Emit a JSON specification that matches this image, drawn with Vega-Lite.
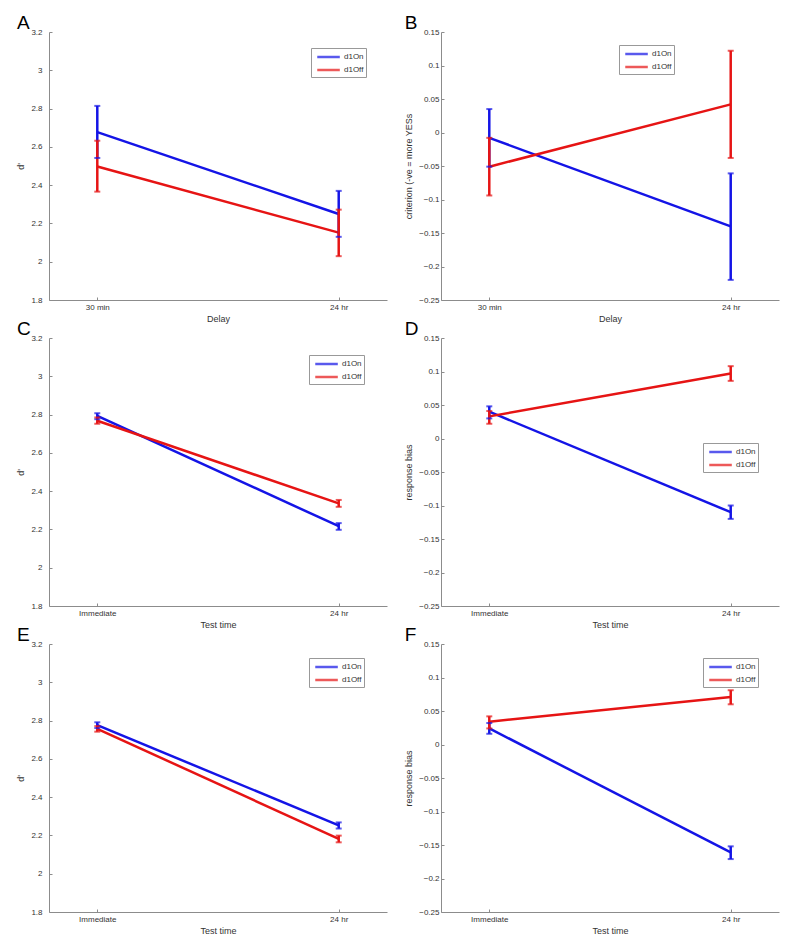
{
  "$schema": "https://vega.github.io/schema/vega-lite/v6.json",
  "background": "white",
  "padding": {"left": 16, "top": 14, "right": 10, "bottom": 10},
  "data": {"values": [
    {"panel":"A","t":"30 min","group":"d1On","mean":2.677,"lo":2.542,"hi":2.814},
    {"panel":"A","t":"24 hr","group":"d1On","mean":2.249,"lo":2.13,"hi":2.37},
    {"panel":"A","t":"30 min","group":"d1Off","mean":2.497,"lo":2.366,"hi":2.632},
    {"panel":"A","t":"24 hr","group":"d1Off","mean":2.152,"lo":2.029,"hi":2.272},
    {"panel":"B","t":"30 min","group":"d1On","mean":-0.008,"lo":-0.051,"hi":0.035},
    {"panel":"B","t":"24 hr","group":"d1On","mean":-0.14,"lo":-0.22,"hi":-0.061},
    {"panel":"B","t":"30 min","group":"d1Off","mean":-0.051,"lo":-0.094,"hi":-0.008},
    {"panel":"B","t":"24 hr","group":"d1Off","mean":0.042,"lo":-0.038,"hi":0.122},
    {"panel":"C","t":"Immediate","group":"d1On","mean":2.793,"lo":2.776,"hi":2.807},
    {"panel":"C","t":"24 hr","group":"d1On","mean":2.217,"lo":2.198,"hi":2.233},
    {"panel":"C","t":"Immediate","group":"d1Off","mean":2.768,"lo":2.752,"hi":2.785},
    {"panel":"C","t":"24 hr","group":"d1Off","mean":2.336,"lo":2.318,"hi":2.354},
    {"panel":"D","t":"Immediate","group":"d1On","mean":0.04,"lo":0.03,"hi":0.048},
    {"panel":"D","t":"24 hr","group":"d1On","mean":-0.11,"lo":-0.12,"hi":-0.1},
    {"panel":"D","t":"Immediate","group":"d1Off","mean":0.033,"lo":0.022,"hi":0.041},
    {"panel":"D","t":"24 hr","group":"d1Off","mean":0.097,"lo":0.086,"hi":0.108},
    {"panel":"E","t":"Immediate","group":"d1On","mean":2.776,"lo":2.761,"hi":2.791},
    {"panel":"E","t":"24 hr","group":"d1On","mean":2.253,"lo":2.236,"hi":2.268},
    {"panel":"E","t":"Immediate","group":"d1Off","mean":2.757,"lo":2.742,"hi":2.771},
    {"panel":"E","t":"24 hr","group":"d1Off","mean":2.182,"lo":2.164,"hi":2.199},
    {"panel":"F","t":"Immediate","group":"d1On","mean":0.024,"lo":0.016,"hi":0.032},
    {"panel":"F","t":"24 hr","group":"d1On","mean":-0.161,"lo":-0.171,"hi":-0.152},
    {"panel":"F","t":"Immediate","group":"d1Off","mean":0.034,"lo":0.024,"hi":0.042},
    {"panel":"F","t":"24 hr","group":"d1Off","mean":0.071,"lo":0.06,"hi":0.081}
  ]},
  "columns": 2,
  "bounds": "flush",
  "spacing": {"row": 38, "column": 54},
  "concat": [
    {
      "width": 338, "height": 268,
      "title": {"text": "A"},
      "transform": [{"filter": "datum.panel === 'A'"}],
      "encoding": {
        "x": {"field": "t", "type": "nominal", "sort": ["30 min", "24 hr"], "scale": {"type": "point", "padding": 0.2}, "axis": {"title": "Delay", "labelAngle": 0, "labelPadding": 6, "titlePadding": 3, "labelOverlap": false}},
        "color": {"field": "group", "type": "nominal", "scale": {"domain": ["d1On", "d1Off"], "range": ["#1414e6", "#e61414"]}, "legend": {"orient": "none", "legendX": 262, "legendY": 16}}
      },
      "layer": [
        {"mark": {"type": "line", "strokeWidth": 2.5}, "encoding": {"y": {"field": "mean", "type": "quantitative", "scale": {"domain": [1.8, 3.2], "nice": false, "zero": false}, "axis": {"title": "d'", "values": [1.8, 2, 2.2, 2.4, 2.6, 2.8, 3, 3.2], "tickCount": 20, "format": "~g", "labelPadding": 10, "titlePadding": 5, "labelOverlap": false}}}},
        {"mark": {"type": "rule", "strokeWidth": 2.5}, "encoding": {"y": {"field": "lo", "type": "quantitative"}, "y2": {"field": "hi"}}},
        {"mark": {"type": "tick", "thickness": 2, "size": 6}, "encoding": {"y": {"field": "lo", "type": "quantitative"}}},
        {"mark": {"type": "tick", "thickness": 2, "size": 6}, "encoding": {"y": {"field": "hi", "type": "quantitative"}}}
      ]
    },
    {
      "width": 338, "height": 268,
      "title": {"text": "B"},
      "transform": [{"filter": "datum.panel === 'B'"}],
      "encoding": {
        "x": {"field": "t", "type": "nominal", "sort": ["30 min", "24 hr"], "scale": {"type": "point", "padding": 0.2}, "axis": {"title": "Delay", "labelAngle": 0, "labelPadding": 6, "titlePadding": 3, "labelOverlap": false}},
        "color": {"field": "group", "type": "nominal", "scale": {"domain": ["d1On", "d1Off"], "range": ["#1414e6", "#e61414"]}, "legend": {"orient": "none", "legendX": 178, "legendY": 13}}
      },
      "layer": [
        {"mark": {"type": "line", "strokeWidth": 2.5}, "encoding": {"y": {"field": "mean", "type": "quantitative", "scale": {"domain": [-0.25, 0.15], "nice": false, "zero": false}, "axis": {"title": "criterion (-ve = more YESs", "values": [-0.25, -0.2, -0.15, -0.1, -0.05, 0, 0.05, 0.1, 0.15], "tickCount": 20, "format": "~g", "labelPadding": 5, "titlePadding": 5, "labelOverlap": false}}}},
        {"mark": {"type": "rule", "strokeWidth": 2.5}, "encoding": {"y": {"field": "lo", "type": "quantitative"}, "y2": {"field": "hi"}}},
        {"mark": {"type": "tick", "thickness": 2, "size": 6}, "encoding": {"y": {"field": "lo", "type": "quantitative"}}},
        {"mark": {"type": "tick", "thickness": 2, "size": 6}, "encoding": {"y": {"field": "hi", "type": "quantitative"}}}
      ]
    },
    {
      "width": 338, "height": 268,
      "title": {"text": "C"},
      "transform": [{"filter": "datum.panel === 'C'"}],
      "encoding": {
        "x": {"field": "t", "type": "nominal", "sort": ["Immediate", "24 hr"], "scale": {"type": "point", "padding": 0.2}, "axis": {"title": "Test time", "labelAngle": 0, "labelPadding": 6, "titlePadding": 3, "labelOverlap": false}},
        "color": {"field": "group", "type": "nominal", "scale": {"domain": ["d1On", "d1Off"], "range": ["#1414e6", "#e61414"]}, "legend": {"orient": "none", "legendX": 260, "legendY": 17}}
      },
      "layer": [
        {"mark": {"type": "line", "strokeWidth": 2.5}, "encoding": {"y": {"field": "mean", "type": "quantitative", "scale": {"domain": [1.8, 3.2], "nice": false, "zero": false}, "axis": {"title": "d'", "values": [1.8, 2, 2.2, 2.4, 2.6, 2.8, 3, 3.2], "tickCount": 20, "format": "~g", "labelPadding": 10, "titlePadding": 5, "labelOverlap": false}}}},
        {"mark": {"type": "rule", "strokeWidth": 2.5}, "encoding": {"y": {"field": "lo", "type": "quantitative"}, "y2": {"field": "hi"}}},
        {"mark": {"type": "tick", "thickness": 2, "size": 6}, "encoding": {"y": {"field": "lo", "type": "quantitative"}}},
        {"mark": {"type": "tick", "thickness": 2, "size": 6}, "encoding": {"y": {"field": "hi", "type": "quantitative"}}}
      ]
    },
    {
      "width": 338, "height": 268,
      "title": {"text": "D"},
      "transform": [{"filter": "datum.panel === 'D'"}],
      "encoding": {
        "x": {"field": "t", "type": "nominal", "sort": ["Immediate", "24 hr"], "scale": {"type": "point", "padding": 0.2}, "axis": {"title": "Test time", "labelAngle": 0, "labelPadding": 6, "titlePadding": 3, "labelOverlap": false}},
        "color": {"field": "group", "type": "nominal", "scale": {"domain": ["d1On", "d1Off"], "range": ["#1414e6", "#e61414"]}, "legend": {"orient": "none", "legendX": 262, "legendY": 105}}
      },
      "layer": [
        {"mark": {"type": "line", "strokeWidth": 2.5}, "encoding": {"y": {"field": "mean", "type": "quantitative", "scale": {"domain": [-0.25, 0.15], "nice": false, "zero": false}, "axis": {"title": "response bias", "values": [-0.25, -0.2, -0.15, -0.1, -0.05, 0, 0.05, 0.1, 0.15], "tickCount": 20, "format": "~g", "labelPadding": 5, "titlePadding": 5, "labelOverlap": false}}}},
        {"mark": {"type": "rule", "strokeWidth": 2.5}, "encoding": {"y": {"field": "lo", "type": "quantitative"}, "y2": {"field": "hi"}}},
        {"mark": {"type": "tick", "thickness": 2, "size": 6}, "encoding": {"y": {"field": "lo", "type": "quantitative"}}},
        {"mark": {"type": "tick", "thickness": 2, "size": 6}, "encoding": {"y": {"field": "hi", "type": "quantitative"}}}
      ]
    },
    {
      "width": 338, "height": 268,
      "title": {"text": "E"},
      "transform": [{"filter": "datum.panel === 'E'"}],
      "encoding": {
        "x": {"field": "t", "type": "nominal", "sort": ["Immediate", "24 hr"], "scale": {"type": "point", "padding": 0.2}, "axis": {"title": "Test time", "labelAngle": 0, "labelPadding": 6, "titlePadding": 3, "labelOverlap": false}},
        "color": {"field": "group", "type": "nominal", "scale": {"domain": ["d1On", "d1Off"], "range": ["#1414e6", "#e61414"]}, "legend": {"orient": "none", "legendX": 260, "legendY": 14}}
      },
      "layer": [
        {"mark": {"type": "line", "strokeWidth": 2.5}, "encoding": {"y": {"field": "mean", "type": "quantitative", "scale": {"domain": [1.8, 3.2], "nice": false, "zero": false}, "axis": {"title": "d'", "values": [1.8, 2, 2.2, 2.4, 2.6, 2.8, 3, 3.2], "tickCount": 20, "format": "~g", "labelPadding": 10, "titlePadding": 5, "labelOverlap": false}}}},
        {"mark": {"type": "rule", "strokeWidth": 2.5}, "encoding": {"y": {"field": "lo", "type": "quantitative"}, "y2": {"field": "hi"}}},
        {"mark": {"type": "tick", "thickness": 2, "size": 6}, "encoding": {"y": {"field": "lo", "type": "quantitative"}}},
        {"mark": {"type": "tick", "thickness": 2, "size": 6}, "encoding": {"y": {"field": "hi", "type": "quantitative"}}}
      ]
    },
    {
      "width": 338, "height": 268,
      "title": {"text": "F"},
      "transform": [{"filter": "datum.panel === 'F'"}],
      "encoding": {
        "x": {"field": "t", "type": "nominal", "sort": ["Immediate", "24 hr"], "scale": {"type": "point", "padding": 0.2}, "axis": {"title": "Test time", "labelAngle": 0, "labelPadding": 6, "titlePadding": 3, "labelOverlap": false}},
        "color": {"field": "group", "type": "nominal", "scale": {"domain": ["d1On", "d1Off"], "range": ["#1414e6", "#e61414"]}, "legend": {"orient": "none", "legendX": 262, "legendY": 14}}
      },
      "layer": [
        {"mark": {"type": "line", "strokeWidth": 2.5}, "encoding": {"y": {"field": "mean", "type": "quantitative", "scale": {"domain": [-0.25, 0.15], "nice": false, "zero": false}, "axis": {"title": "response bias", "values": [-0.25, -0.2, -0.15, -0.1, -0.05, 0, 0.05, 0.1, 0.15], "tickCount": 20, "format": "~g", "labelPadding": 5, "titlePadding": 5, "labelOverlap": false}}}},
        {"mark": {"type": "rule", "strokeWidth": 2.5}, "encoding": {"y": {"field": "lo", "type": "quantitative"}, "y2": {"field": "hi"}}},
        {"mark": {"type": "tick", "thickness": 2, "size": 6}, "encoding": {"y": {"field": "lo", "type": "quantitative"}}},
        {"mark": {"type": "tick", "thickness": 2, "size": 6}, "encoding": {"y": {"field": "hi", "type": "quantitative"}}}
      ]
    }
  ],
  "resolve": {"scale": {"color": "independent"}, "legend": {"color": "independent"}},
  "config": {
    "font": "Liberation Sans",
    "view": {"stroke": null},
    "title": {"anchor": "start", "frame": "bounds", "fontSize": 19, "fontWeight": "normal", "color": "black", "offset": -5, "font": "Liberation Sans"},
    "axis": {"domainColor": "#8c8c8c", "tickColor": "#8c8c8c", "labelColor": "#333333", "labelFontSize": 8, "titleFontSize": 9, "titleFontWeight": "normal", "titleColor": "#333333", "grid": false, "tickSize": -3, "labelOverlap": false, "labelFont": "Liberation Sans", "titleFont": "Liberation Sans"},
    "legend": {"title": null, "symbolType": "M-0.5,0H3.6", "symbolSize": 121, "symbolStrokeWidth": 2.5, "labelFontSize": 8, "labelColor": "#333333", "labelOffset": 17, "rowPadding": 1, "padding": 2, "strokeColor": "#999999", "fillColor": "white", "labelFont": "Liberation Sans"}
  }
}
